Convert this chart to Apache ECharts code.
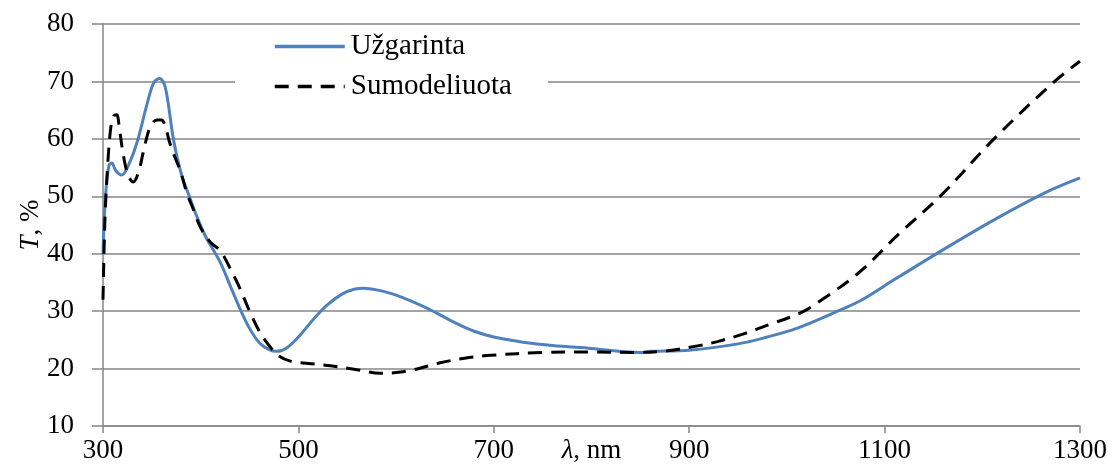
<!DOCTYPE html>
<html>
<head>
<meta charset="utf-8">
<script src="https://cdn.jsdelivr.net/npm/echarts@6/dist/echarts.min.js"></script>
<style>
html,body{margin:0;padding:0;background:#fff;}
#chart{width:1114px;height:474px;}
</style>
</head>
<body>
<div id="chart"></div>
<script>
// Wavelengths (nm) and transmittance (%)
const wlMeasured = [300,301,303,306,309,313,319,326,335,345,352,358,364,372,380,389,396,405,420,430,440,450,460,470,478,488,500,515,529,545,557,567,580,600,632,660,680,700,730,760,800,850,860,900,950,980,1010,1048,1075,1110,1158,1212,1264,1300];
const tMeasured  = [40,45,51,55.3,55.8,54.5,53.7,55.4,59.5,66,69.8,70.5,68.8,60,54,49.7,46.5,43,38.5,34.5,30.5,27,24.5,23.3,23,23.6,25.5,28.5,31,33,33.8,34,33.7,32.8,30.5,28,26.5,25.5,24.6,24,23.5,22.8,23,23.2,24.3,25.5,27,29.7,31.8,35.5,40.5,45.9,50.6,53.2];

const wlModel = [300,302,305,308,311,314,317,321,326,331,336,341,346,350,355,360,364,368,372,379,386,393,400,410,420,430,440,450,460,471,480,492,510,533,560,584,600,618,645,670,697,750,800,843,878,910,929,955,981,1014,1035,1073,1115,1158,1212,1274,1300];
const tModel  = [32,46,56,62,64,64.2,61.5,57,53.5,52.5,54,57.5,61,62.6,63.3,63.3,62,59.5,57.5,54.5,50.5,47.5,44.5,42,40.5,37.5,34,30,26.5,23.8,22.2,21.3,20.9,20.5,19.8,19.2,19.3,19.8,21,21.8,22.3,22.8,22.9,22.8,23.1,24,24.7,26,27.6,29.7,31.9,36.6,43.5,50.2,60,70,73.5];

const seriesNames = ['Užgarinta', 'Sumodeliuota'];
const xTicks = [300, 500, 700, 900, 1100, 1300];
const yTicks = [10, 20, 30, 40, 50, 60, 70, 80];

const zip = (a, b) => a.map((v, i) => [v, b[i]]);
const FONT = 'Liberation Serif';
const axisGray = '#868686';

const chart = echarts.init(document.getElementById('chart'), null, {renderer: 'canvas'});
chart.setOption({
  animation: false,
  backgroundColor: '#ffffff',
  textStyle: {fontFamily: FONT, color: '#000'},
  grid: {left: 103, right: 34, top: 24, bottom: 48, containLabel: false, outerBoundsMode: 'none'},
  xAxis: {
    type: 'value',
    min: xTicks[0], max: xTicks[xTicks.length - 1], interval: 200,
    name: '{i|λ}, nm',
    nameLocation: 'middle',
    nameGap: 11,
    nameMoveOverlap: false,
    nameTextStyle: {
      fontFamily: FONT, fontSize: 27, color: '#000', verticalAlign: 'top',
      rich: {i: {fontFamily: FONT, fontSize: 27, fontStyle: 'italic', color: '#000'}}
    },
    axisLine: {show: true, onZero: false, lineStyle: {color: axisGray, width: 1.5}},
    axisTick: {show: true, inside: false, length: 7, lineStyle: {color: axisGray, width: 1.5}},
    axisLabel: {fontFamily: FONT, fontSize: 27, color: '#000', margin: 11, formatter: v => String(v)},
    splitLine: {show: false}
  },
  yAxis: {
    type: 'value',
    min: yTicks[0], max: yTicks[yTicks.length - 1], interval: 10,
    name: '{i|T}, %',
    nameLocation: 'middle',
    nameRotate: 90,
    nameGap: 59,
    nameMoveOverlap: false,
    nameTextStyle: {
      fontFamily: FONT, fontSize: 27, color: '#000',
      rich: {i: {fontFamily: FONT, fontSize: 27, fontStyle: 'italic', color: '#000'}}
    },
    axisLine: {show: true, lineStyle: {color: axisGray, width: 1.5}},
    axisTick: {show: true, inside: false, length: 11, lineStyle: {color: axisGray, width: 1.5}},
    axisLabel: {fontFamily: FONT, fontSize: 27, color: '#000', margin: 29, formatter: v => String(v)},
    splitLine: {show: true, lineStyle: {color: axisGray, width: 1.5}}
  },
  legend: {
    show: true,
    orient: 'vertical',
    left: 235,
    top: 28,
    padding: [4, 36, 6, 38],
    itemGap: 11,
    itemWidth: 70,
    itemHeight: 14,
    backgroundColor: '#ffffff',
    itemStyle: {opacity: 0},
    lineStyle: {width: 3.5},
    textStyle: {fontFamily: FONT, fontSize: 29, color: '#000', padding: [0, 0, 0, 1]},
    data: seriesNames
  },
  series: [
    {
      name: seriesNames[0],
      type: 'line',
      data: zip(wlMeasured, tMeasured),
      symbol: 'none',
      smooth: 0.35,
      lineStyle: {color: '#4F81BD', width: 3},
      itemStyle: {color: '#4F81BD'},
      z: 3
    },
    {
      name: seriesNames[1],
      type: 'line',
      data: zip(wlModel, tModel),
      symbol: 'none',
      smooth: 0.35,
      lineStyle: {color: '#000000', width: 3, type: [14, 9], cap: 'butt'},
      itemStyle: {color: '#000000'},
      z: 4
    }
  ]
});
</script>
</body>
</html>
